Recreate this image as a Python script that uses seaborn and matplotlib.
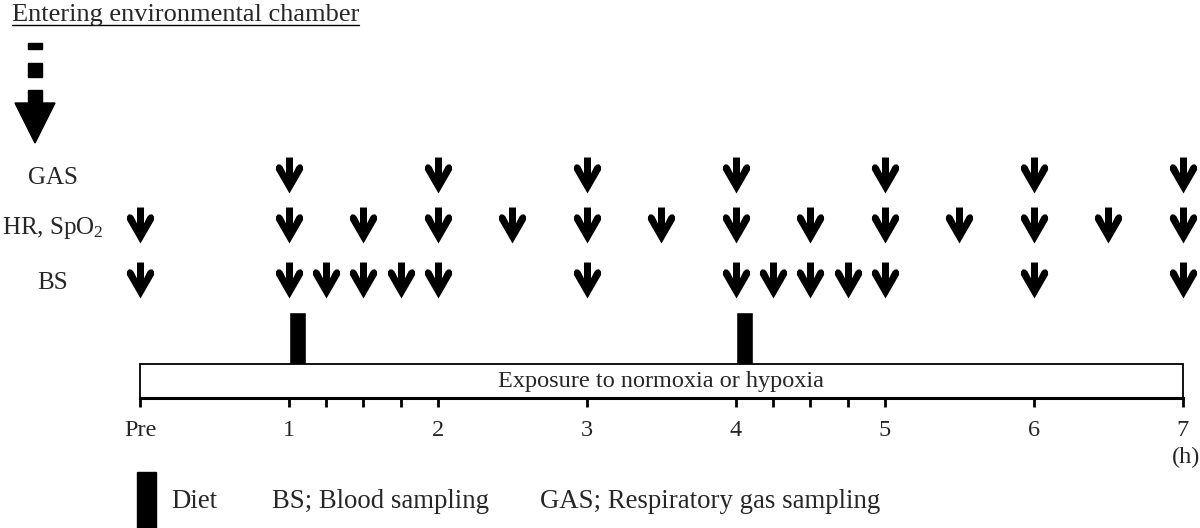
import numpy as np
import pandas as pd
import seaborn as sns
import matplotlib.pyplot as plt
import matplotlib.transforms as mtransforms
from matplotlib.path import Path
from matplotlib.patches import Rectangle, Polygon
from matplotlib.lines import Line2D

# sampling schedule, hours after "Pre"
gas_times = [1, 2, 3, 4, 5, 6, 7]
hr_times = [0, 1, 1.5, 2, 2.5, 3, 3.5, 4, 4.5, 5, 5.5, 6, 6.5, 7]
bs_times = [0, 1, 1.25, 1.5, 1.75, 2, 3, 4, 4.25, 4.5, 4.75, 5, 6, 7]
diet_times = [1, 4]
exposure_start, exposure_end = 0, 7

major_ticks = [0, 1, 2, 3, 4, 5, 6, 7]
tick_labels = ['Pre', '1', '2', '3', '4', '5', '6', '7']
minor_ticks = [1.25, 1.5, 1.75, 4.25, 4.5, 4.75]

row_names = ['GAS', 'HR, SpO$_\\mathregular{2}$', 'BS']
row_times = [gas_times, hr_times, bs_times]

sns.set_style('white')
plt.rcParams['font.family'] = ['Liberation Serif', 'DejaVu Serif']
plt.rcParams['mathtext.fontset'] = 'custom'
plt.rcParams['mathtext.rm'] = 'Liberation Serif'
plt.rcParams['mathtext.it'] = 'Liberation Serif:italic'
FS = 17.5

# row vertical positions (image pixels, measured from the top)
row_y = [175, 225, 280]

df = pd.concat([pd.DataFrame({'time': t, 'y': y, 'row': n})
                for t, y, n in zip(row_times, row_y, row_names)],
               ignore_index=True)

# bold down-arrow marker
right = [(3.5, 18), (3.5, 2.1), (7.0, 9.0), (9.0, 10.9), (11.7, 11.2),
         (13.5, 9.0), (13.6, 5.6), (0, -18)]
left = [(-x, y) for x, y in right[:-1][::-1]]
verts = right + left + [right[0]]
arrow = Path(verts, [Path.MOVETO] + [Path.LINETO] * (len(verts) - 2) + [Path.CLOSEPOLY])

fig = plt.figure(figsize=(12, 5.28), dpi=100)
ax = fig.add_axes([0, 0, 1, 1])
# image pixel coords -> display
pix = mtransforms.Affine2D().scale(1 / 1200, -1 / 528).translate(0, 1) + ax.transAxes

sns.scatterplot(data=df, x='time', y='y', marker=arrow, s=670, color='black',
                linewidth=0, legend=False, ax=ax)

# diet bars
ax.bar(diet_times, 52, width=0.115, bottom=312, align='edge', color='black')

# exposure box
ax.add_patch(Rectangle((exposure_start, 364), exposure_end - exposure_start, 34,
                       facecolor='white', edgecolor='black', lw=1.3, zorder=1))
ax.text((exposure_start + exposure_end) / 2, 381, 'Exposure to normoxia or hypoxia',
        ha='center', va='center', fontsize=FS)

# limits: Pre at x=140 px, 149 px per hour
ax.set_xlim((0 - 140) / 149, (1200 - 140) / 149)
ax.set_ylim(528, 0)
ax.set_xlabel('')
ax.set_ylabel('')

for s in ['top', 'left', 'right']:
    ax.spines[s].set_visible(False)
ax.spines['bottom'].set_position(('data', 398))
ax.spines['bottom'].set_bounds(exposure_start, exposure_end)
ax.spines['bottom'].set_linewidth(2.2)
ax.spines['bottom'].set_color('black')
ax.set_xticks(major_ticks, tick_labels)
ax.set_xticks(minor_ticks, minor=True)
ax.set_yticks([])
ax.tick_params(axis='x', which='both', bottom=True, direction='out', length=6.5,
               width=2, color='black', labelsize=FS, pad=9)
ax.text(1186, 457, '(h)', transform=pix, ha='center', va='center', fontsize=FS)

# row labels
for name, y in zip(row_names, row_y):
    ax.text(53, y + 3, name, transform=pix, ha='center', va='center', fontsize=18)

# header with dashed entry arrow
title = ax.text(12, 15, 'Entering environmental chamber', transform=pix,
                ha='left', va='center', fontsize=19)
fig.canvas.draw()
bb = title.get_window_extent()
ax.add_line(Line2D([bb.x0, bb.x1], [24.5, 24.5], transform=pix, color='black', lw=1))
for y0, h in [(43, 6), (63, 14), (90, 14)]:
    ax.add_patch(Rectangle((28, y0), 14, h, transform=pix, color='black'))
ax.add_patch(Polygon([(15, 103), (55, 103), (35, 143)], closed=True,
                     transform=pix, color='black'))

# legend
LFS = 19.3
ax.add_patch(Rectangle((137, 472), 19, 56, transform=pix, color='black', clip_on=False))
ax.text(171, 501, 'Diet', transform=pix, ha='left', va='center', fontsize=LFS)
ax.text(272, 501, 'BS; Blood sampling', transform=pix, ha='left', va='center', fontsize=LFS)
ax.text(540, 501, 'GAS; Respiratory gas sampling', transform=pix, ha='left',
        va='center', fontsize=LFS)

fig.savefig('out.png', dpi=100, facecolor='white')
